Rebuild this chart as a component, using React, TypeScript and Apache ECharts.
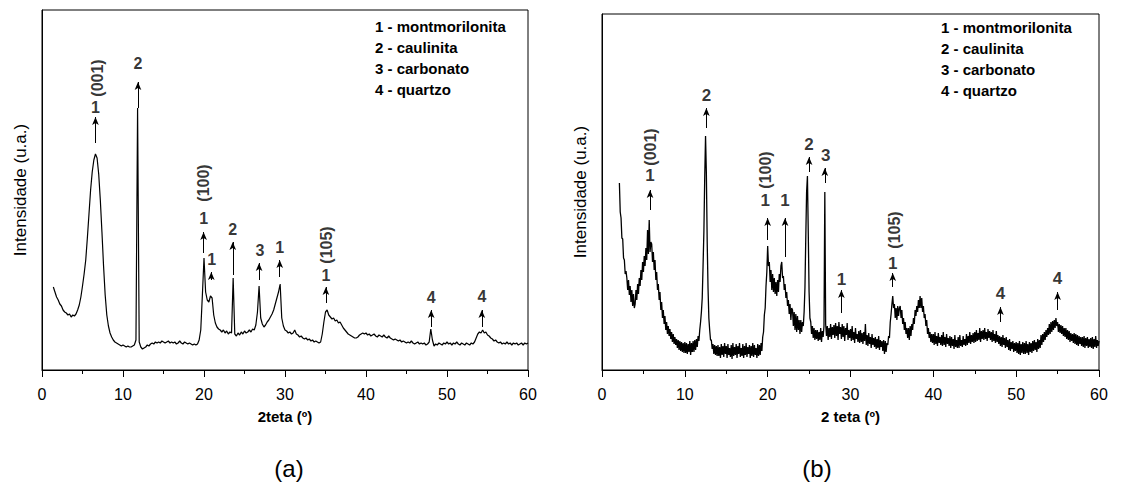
import React, { useEffect, useRef } from "react";
import * as echarts from "echarts";

// ---- Panel (a): 2theta grid starts at 1.4 deg, step 0.2 deg; one row per degree ----
const thetaStartA = 1.4;
const thetaStepA = 0.2;
const intensityA: number[][] = [
  [83, 78, 73],
  [70, 66, 64, 60, 58],
  [57, 55, 56, 53, 55],
  [54, 56, 60, 65, 73],
  [84, 96, 110, 132, 156],
  [180, 198, 210, 216, 212],
  [196, 170, 138, 104, 75],
  [55, 44, 37, 33, 30],
  [28, 27, 26, 25, 24],
  [25, 24, 23, 24, 23],
  [23, 24, 25, 30, 262],
  [28, 23, 21, 22, 23],
  [25, 24, 26, 27, 26],
  [28, 27, 28, 27, 29],
  [28, 27, 28, 29, 27],
  [28, 27, 28, 26, 27],
  [29, 27, 26, 28, 27],
  [26, 27, 26, 25, 26],
  [25, 26, 30, 40, 75],
  [112, 78, 70, 68, 74],
  [72, 55, 47, 43, 41],
  [40, 38, 40, 37, 39],
  [36, 38, 37, 92, 36],
  [34, 37, 35, 38, 36],
  [39, 37, 38, 40, 38],
  [41, 40, 45, 58, 84],
  [52, 46, 43, 45, 48],
  [50, 53, 56, 60, 66],
  [72, 78, 86, 52, 44],
  [40, 39, 37, 38, 36],
  [37, 40, 36, 35, 33],
  [34, 32, 31, 32, 30],
  [31, 29, 30, 28, 29],
  [28, 27, 28, 36, 48],
  [58, 60, 55, 53, 51],
  [52, 49, 50, 47, 48],
  [45, 42, 40, 38, 36],
  [35, 34, 33, 32, 32],
  [33, 35, 36, 37, 36],
  [37, 35, 36, 34, 35],
  [36, 34, 33, 35, 34],
  [33, 35, 33, 32, 34],
  [32, 31, 30, 31, 30],
  [29, 30, 28, 29, 28],
  [27, 28, 27, 29, 27],
  [26, 27, 28, 26, 27],
  [26, 27, 25, 26, 28],
  [41, 30, 24, 26, 25],
  [27, 26, 25, 27, 26],
  [28, 26, 27, 25, 27],
  [26, 28, 26, 25, 27],
  [26, 25, 27, 26, 25],
  [27, 26, 28, 32, 36],
  [38, 37, 40, 37, 38],
  [35, 34, 32, 31, 29],
  [30, 28, 27, 28, 26],
  [27, 26, 28, 26, 27],
  [25, 27, 26, 27, 25],
  [26, 27, 25, 27, 26],
  [27],
];

// ---- Panel (b): 2theta grid starts at 2.1 deg, step 0.1 deg; one row per degree ----
const thetaStartB = 2.1;
const thetaStepB = 0.1;
const intensityB: number[][] = [
  [187, 158, 152, 132, 131, 112, 110, 96, 99],
  [92, 80, 90, 75, 84, 68, 80, 64, 76, 62],
  [66, 80, 70, 86, 76, 92, 84, 100, 90, 108],
  [98, 114, 104, 122, 110, 140, 116, 150, 118, 128],
  [126, 108, 118, 100, 110, 90, 98, 80, 86, 70],
  [78, 60, 68, 52, 60, 46, 54, 40, 48, 36],
  [44, 34, 41, 31, 38, 28, 36, 26, 33, 25],
  [31, 22, 30, 20, 29, 19, 28, 18, 27, 17],
  [28, 17, 27, 16, 26, 18, 29, 15, 27, 18],
  [29, 18, 30, 20, 31, 23, 34, 29, 40, 48],
  [58, 72, 104, 138, 192, 234, 196, 128, 82, 52],
  [40, 30, 30, 21, 26, 16, 25, 15, 24, 14],
  [25, 14, 23, 12, 26, 15, 24, 13, 27, 16],
  [24, 12, 26, 15, 22, 13, 25, 11, 27, 14],
  [23, 15, 26, 12, 24, 16, 27, 13, 22, 14],
  [26, 12, 24, 15, 27, 13, 23, 16, 25, 12],
  [24, 14, 27, 13, 25, 15, 22, 12, 26, 14],
  [25, 15, 27, 19, 33, 38, 55, 62, 84, 98],
  [124, 104, 108, 88, 100, 80, 96, 78, 92, 76],
  [88, 74, 90, 78, 96, 88, 104, 108, 92, 94],
  [80, 86, 72, 78, 64, 70, 56, 66, 50, 62],
  [60, 44, 58, 40, 56, 38, 54, 40, 50, 36],
  [50, 38, 48, 44, 58, 82, 132, 178, 194, 138],
  [78, 52, 48, 36, 44, 32, 42, 30, 40, 31],
  [40, 29, 38, 30, 42, 28, 39, 33, 44, 178],
  [46, 34, 44, 30, 42, 33, 46, 31, 43, 35],
  [45, 32, 47, 34, 44, 30, 48, 36, 43, 31],
  [46, 33, 44, 29, 42, 35, 47, 30, 40, 32],
  [41, 29, 44, 30, 38, 27, 42, 31, 36, 28],
  [39, 27, 40, 28, 37, 26, 38, 29, 46, 25],
  [35, 24, 37, 26, 33, 22, 36, 25, 32, 23],
  [33, 21, 31, 22, 34, 20, 30, 23, 29, 19],
  [30, 16, 29, 18, 27, 25, 34, 32, 48, 56],
  [66, 74, 62, 66, 52, 62, 50, 64, 54, 62],
  [64, 52, 60, 46, 52, 40, 48, 36, 42, 32],
  [42, 30, 44, 34, 46, 40, 52, 46, 60, 54],
  [64, 58, 70, 62, 74, 62, 72, 58, 64, 52],
  [56, 44, 50, 36, 42, 32, 38, 28, 36, 27],
  [36, 25, 38, 26, 34, 24, 37, 27, 33, 25],
  [35, 24, 38, 25, 33, 23, 36, 26, 32, 24],
  [34, 22, 33, 24, 31, 21, 35, 23, 30, 22],
  [33, 22, 35, 24, 30, 23, 34, 25, 31, 24],
  [36, 25, 34, 27, 38, 26, 35, 28, 37, 27],
  [38, 28, 40, 29, 37, 30, 42, 28, 39, 31],
  [40, 30, 42, 31, 38, 29, 41, 32, 39, 30],
  [38, 28, 40, 29, 36, 27, 39, 28, 35, 26],
  [34, 24, 33, 23, 35, 25, 32, 22, 33, 23],
  [30, 20, 31, 19, 28, 21, 29, 18, 27, 19],
  [28, 17, 27, 16, 29, 15, 26, 17, 28, 16],
  [27, 16, 29, 17, 26, 15, 28, 18, 27, 17],
  [29, 19, 30, 20, 28, 18, 31, 21, 30, 22],
  [35, 25, 36, 28, 38, 30, 40, 33, 42, 35],
  [46, 36, 48, 38, 49, 40, 50, 42, 52, 44],
  [48, 38, 46, 37, 45, 36, 44, 34, 42, 33],
  [42, 31, 40, 30, 39, 28, 37, 29, 36, 27],
  [37, 26, 36, 25, 35, 24, 34, 26, 33, 24],
  [33, 23, 34, 22, 32, 24, 33, 22, 31, 23],
  [32, 22, 33, 21, 31, 23, 34, 22, 30, 24],
  [29],
];

// ---- peak annotations: [2theta, arrow from, arrow to, phase number, number label height, number x] ----
const peaksA: [number, number, number, string, number, number][] = [
  [6.6, 227, 253, "1", 263, 6.6],
  [11.85, 262, 288, "2", 307, 11.85],
  [19.95, 117, 138, "1", 152, 19.95],
  [20.9, 90, 98, "1", 111, 20.95],
  [23.55, 95, 128, "2", 141, 23.55],
  [26.8, 90, 107, "3", 120, 26.9],
  [29.35, 93, 110, "1", 123, 29.35],
  [35.05, 67, 83, "1", 95, 35.05],
  [48.05, 43, 60, "4", 73, 48.05],
  [54.3, 43, 60, "4", 74, 54.3],
];
const hklA: [number, number, string][] = [
  [6.8, 292, "(001)"],
  [19.95, 187, "(100)"],
  [35.1, 125, "(105)"],
];

const peaksB: [number, number, number, string, number, number][] = [
  [5.8, 160, 180, "1", 195, 5.8],
  [12.6, 242, 262, "2", 275, 12.6],
  [20.0, 130, 152, "1", 170, 19.7],
  [22.1, 113, 152, "1", 170, 22.1],
  [25.0, 198, 213, "2", 226, 25.0],
  [26.9, 187, 202, "3", 215, 27.0],
  [28.9, 57, 80, "1", 91, 28.9],
  [35.1, 83, 97, "1", 107, 35.1],
  [48.1, 48, 63, "4", 77, 48.1],
  [55.0, 60, 78, "4", 92, 55.0],
];
const hklB: [number, number, string][] = [
  [5.8, 223, "(001)"],
  [19.7, 200, "(100)"],
  [35.3, 140, "(105)"],
];

const legendLines = ["1 - montmorilonita", "2 - caulinita", "3 - carbonato", "4 - quartzo"];
const xTicks = [0, 10, 20, 30, 40, 50, 60];

const FONT = '"Liberation Sans", Arial, sans-serif';

function toSeries(rows: number[][], start: number, step: number) {
  return rows.flat().map((v, i) => [Number((start + i * step).toFixed(2)), v]);
}

function labelStyle(size: number, rotate: number) {
  return {
    show: true,
    position: "inside",
    rotate,
    formatter: "{b}",
    color: "#000",
    fontWeight: "bold",
    fontSize: size,
    fontFamily: FONT,
    textBorderWidth: 0,
    textBorderColor: "transparent",
    textShadowBlur: 0,
  };
}

function panel(
  idx: number,
  rows: number[][],
  start: number,
  step: number,
  peaks: [number, number, number, string, number, number][],
  hkl: [number, number, string][],
  numSize: number,
  lineWidth: number
) {
  return [
    {
      type: "line",
      xAxisIndex: idx,
      yAxisIndex: idx,
      data: toSeries(rows, start, step),
      showSymbol: false,
      symbol: "none",
      silent: true,
      lineStyle: { color: "#000", width: lineWidth },
      markLine: {
        silent: true,
        symbol: ["none", "arrow"],
        symbolSize: [5, 8],
        label: { show: false },
        lineStyle: { color: "#000", width: 1, type: "solid" },
        data: peaks.map((p) => [
          { coord: [p[0], p[1]] },
          { coord: [p[0], p[2]] },
        ]),
      },
    },
    {
      type: "scatter",
      xAxisIndex: idx,
      yAxisIndex: idx,
      silent: true,
      symbolSize: 1,
      itemStyle: { color: "rgba(255,255,255,0)" },
      data: peaks.map((p) => ({ value: [p[5], p[4]], name: p[3] })),
      label: labelStyle(numSize, 0),
    },
    {
      type: "scatter",
      xAxisIndex: idx,
      yAxisIndex: idx,
      silent: true,
      symbolSize: 1,
      itemStyle: { color: "rgba(255,255,255,0)" },
      data: hkl.map((h) => ({ value: [h[0], h[1]], name: h[2] })),
      label: labelStyle(16, 90),
    },
  ];
}

function xAxis(idx: number, name: string) {
  return {
    type: "value",
    gridIndex: idx,
    min: 0,
    max: 60,
    interval: 10,
    name,
    nameLocation: "middle",
    nameGap: 39,
    nameTextStyle: { color: "#000", fontWeight: "bold", fontSize: 15, fontFamily: FONT },
    axisLine: { show: true, lineStyle: { color: "#000", width: 1 } },
    axisTick: { show: true, inside: false, length: 7, lineStyle: { color: "#000" } },
    minorTick: { show: true, splitNumber: 2, length: 4, lineStyle: { color: "#000" } },
    axisLabel: {
      margin: 16,
      color: "#000",
      fontSize: 16,
      fontFamily: FONT,
      formatter: (v: number) => (xTicks.includes(v) ? String(v) : ""),
    },
    splitLine: { show: false },
  };
}

function yAxis(idx: number, max: number) {
  return {
    type: "value",
    gridIndex: idx,
    min: 0,
    max,
    name: "Intensidade (u.a.)",
    nameLocation: "middle",
    nameGap: 13,
    nameTextStyle: { color: "#000", fontSize: 17, fontFamily: FONT },
    axisLine: { show: true, lineStyle: { color: "#000", width: 1 } },
    axisTick: { show: false },
    axisLabel: { show: false },
    splitLine: { show: false },
  };
}

export default function App() {
  const ref = useRef<HTMLDivElement>(null);
  useEffect(() => {
    if (!ref.current) return;
    const chart = echarts.init(ref.current, null, { renderer: "svg" });
    chart.setOption({
      animation: false,
      backgroundColor: "#fff",
      grid: [
        { left: 42, top: 10, width: 486, height: 360, show: true, borderColor: "#000", borderWidth: 1 },
        { left: 602, top: 14, width: 497, height: 356, show: true, borderColor: "#000", borderWidth: 1 },
      ],
      xAxis: [xAxis(0, "2teta (º)"), xAxis(1, "2 teta (º)")],
      yAxis: [yAxis(0, 360), yAxis(1, 356)],
      series: [
        ...panel(0, intensityA, thetaStartA, thetaStepA, peaksA, hklA, 16, 1.2),
        ...panel(1, intensityB, thetaStartB, thetaStepB, peaksB, hklB, 17, 1.3),
      ],
      graphic: [
        {
          type: "text",
          left: 375,
          top: 16,
          silent: true,
          style: { text: legendLines.join("\n"), font: `bold 15px ${FONT}`, lineHeight: 21, fill: "#000" },
        },
        {
          type: "text",
          left: 941,
          top: 17,
          silent: true,
          style: { text: legendLines.join("\n"), font: `bold 15px ${FONT}`, lineHeight: 21, fill: "#000" },
        },
        {
          type: "text",
          x: 289,
          y: 468,
          silent: true,
          style: { text: "(a)", font: `24px ${FONT}`, fill: "#000", textAlign: "center", textVerticalAlign: "middle" },
        },
        {
          type: "text",
          x: 817,
          y: 468,
          silent: true,
          style: { text: "(b)", font: `24px ${FONT}`, fill: "#000", textAlign: "center", textVerticalAlign: "middle" },
        },
      ],
    });
    return () => chart.dispose();
  }, []);
  return (
    <div
      ref={ref}
      style={{ position: "absolute", left: 0, top: 0, width: 1124, height: 497 }}
    />
  );
}
